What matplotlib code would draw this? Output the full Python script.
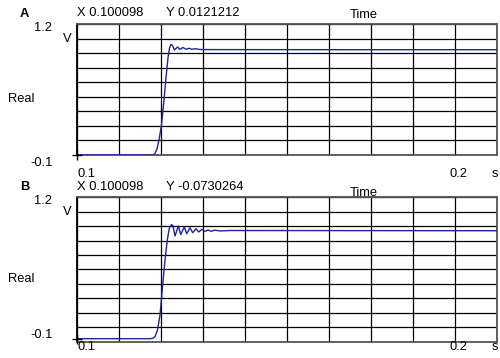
import matplotlib.pyplot as plt
import numpy as np

plt.rcParams['font.family'] = ['Liberation Sans', 'DejaVu Sans']

# 数据
time_a = [0.1, 0.11931, 0.12011, 0.12063, 0.12116, 0.12169, 0.12235, 0.12302,
          0.12354, 0.12407, 0.12447, 0.12487, 0.12526, 0.12579, 0.12659, 0.12725,
          0.12804, 0.12884, 0.12963, 0.13042, 0.13122, 0.13254, 0.13519, 0.17, 0.21111]
real_a = [-0.1, -0.1, -0.1, -0.085, -0.040, 0.049, 0.198, 0.446,
          0.664, 0.863, 0.962, 0.997, 0.987, 0.942, 0.972, 0.949,
          0.967, 0.949, 0.959, 0.949, 0.955, 0.947, 0.946, 0.945, 0.945]

time_b = [0.1, 0.11931, 0.12011, 0.12063, 0.12130, 0.12196, 0.12262, 0.12328,
          0.12389, 0.12442, 0.12500, 0.12540, 0.12593, 0.12680, 0.12743, 0.12839,
          0.12902, 0.12989, 0.13061, 0.13148, 0.13220, 0.13307, 0.13386, 0.13466,
          0.13545, 0.13651, 0.13783, 0.14048, 0.21111]
real_b = [-0.073, -0.073, -0.069, -0.055, 0.005, 0.140, 0.392, 0.635,
          0.816, 0.921, 0.955, 0.942, 0.852, 0.942, 0.865, 0.933,
          0.872, 0.926, 0.881, 0.917, 0.888, 0.912, 0.892, 0.907,
          0.894, 0.904, 0.897, 0.901, 0.899]

panels = [
    dict(name='A', t=time_a, y=real_a, cx='X 0.100098', cy='Y 0.0121212', rows=9, time_dy=-9),
    dict(name='B', t=time_b, y=real_b, cx='X 0.100098', cy='Y -0.0730264', rows=10, time_dy=-4),
]

x_min, x_max = 0.1, 0.21111
y_min, y_max = -0.1, 1.2
line_color = '#23239a'

fig = plt.figure(figsize=(5, 3.58), dpi=100)
W, H = 500.0, 358.0

# 坐标区位置（像素）：left, top, right, bottom
boxes = [(77, 24, 497, 155), (77, 197.3, 497, 341.7)]
for p, (l, t, r, b) in zip(panels, boxes):
    ax = fig.add_axes([l / W, 1 - b / H, (r - l) / W, (b - t) / H])
    ax.plot(p['t'], p['y'], color=line_color, linewidth=1.0, zorder=3)
    ax.plot([p['t'][0]], [p['y'][0]], marker='+', color='black',
            markersize=7, markeredgewidth=1.0, clip_on=False, zorder=4)
    ax.set_xlim(x_min, x_max)
    ax.set_ylim(y_min, y_max)
    ax.set_xticks(np.linspace(x_min, x_max, 11))
    ax.set_yticks(np.linspace(y_min, y_max, p['rows'] + 1))
    ax.tick_params(length=0, labelleft=False, labelbottom=False)
    ax.grid(True, color='black', linewidth=0.9)
    for s in ax.spines.values():
        s.set_color('#555555')
        s.set_linewidth(1.3)
    ax.spines['left'].set_color('black')

    # 文本标注（像素坐标转换）
    def txt(x, y, s, **kw):
        fig.text(x / W, 1 - y / H, s, fontsize=9.3, **kw)

    txt(20, t - 10, p['name'], fontweight='bold', va='center', ha='left')
    txt(77, t - 10.5, p['cx'], va='center', ha='left')
    txt(166, t - 10.5, p['cy'], va='center', ha='left')
    txt(364, t + p['time_dy'], 'Time', va='center', ha='center')
    txt(52, t + 4, '1.2', va='center', ha='right')
    txt(72, t + 15, 'V', va='center', ha='right')
    txt(8, (t + b) / 2 + 10, 'Real', va='center', ha='left')
    txt(53, b + (8 if p['name'] == 'A' else -6.5), '-0.1', va='center', ha='right')
    lab_y = b + (19 if p['name'] == 'A' else 5.5)
    txt(77, lab_y, '0.1', va='center', ha='left')
    txt(449, lab_y, '0.2', va='center', ha='left')
    txt(492, lab_y, 's', va='center', ha='left')

fig.savefig('out.png', dpi=100)
